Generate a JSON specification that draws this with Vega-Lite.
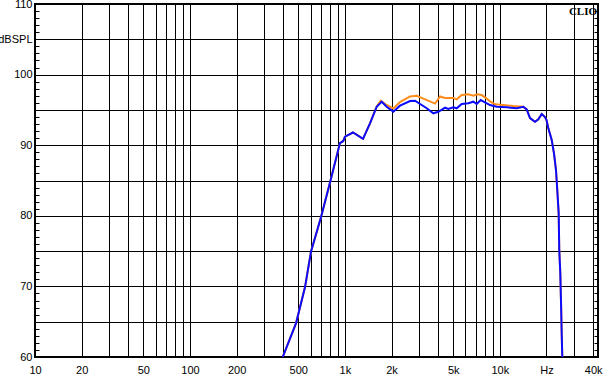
{
  "$schema": "https://vega.github.io/schema/vega-lite/v6.json",
  "width": 563,
  "height": 353,
  "autosize": "none",
  "padding": {"left": 35, "top": 4, "right": 5, "bottom": 19},
  "background": "white",
  "config": {
    "view": {"stroke": "black", "strokeWidth": 2},
    "axis": {
      "labelFont": "Liberation Sans",
      "labelFontSize": 11,
      "labelColor": "black",
      "title": null,
      "domain": false,
      "gridColor": "black",
      "gridWidth": 1,
      "tickColor": "black",
      "labelOverlap": false,
      "labelFlush": false
    }
  },
  "datasets": {
    "orange": [
      {"f": 397, "db": 60.0}, {"f": 484, "db": 64.8}, {"f": 553, "db": 69.9}, {"f": 604, "db": 74.9},
      {"f": 701, "db": 79.8}, {"f": 810, "db": 85.1}, {"f": 929, "db": 90.3},
      {"f": 977, "db": 90.6}, {"f": 1001, "db": 91.2}, {"f": 1128, "db": 91.8}, {"f": 1309, "db": 90.9},
      {"f": 1452, "db": 93.1}, {"f": 1604, "db": 95.5}, {"f": 1703, "db": 96.3}, {"f": 1860, "db": 95.7},
      {"f": 2054, "db": 95.2}, {"f": 2268, "db": 96.1}, {"f": 2632, "db": 96.9}, {"f": 2908, "db": 97.0},
      {"f": 3207, "db": 96.6}, {"f": 3542, "db": 96.2}, {"f": 3815, "db": 95.9}, {"f": 4111, "db": 96.9},
      {"f": 4429, "db": 96.7}, {"f": 5008, "db": 96.7}, {"f": 5267, "db": 96.5}, {"f": 5674, "db": 97.1},
      {"f": 6258, "db": 97.2}, {"f": 6744, "db": 97.0}, {"f": 7152, "db": 97.2}, {"f": 7636, "db": 97.1},
      {"f": 8225, "db": 96.6}, {"f": 8643, "db": 96.2}, {"f": 9306, "db": 95.8}, {"f": 10527, "db": 95.7},
      {"f": 12216, "db": 95.55}, {"f": 14169, "db": 95.45}, {"f": 14902, "db": 95.08}, {"f": 15651, "db": 93.85},
      {"f": 16865, "db": 93.33}, {"f": 17714, "db": 93.67}, {"f": 18631, "db": 94.42}, {"f": 19560, "db": 93.99},
      {"f": 20001, "db": 93.57}, {"f": 20543, "db": 92.44}, {"f": 21613, "db": 90.74}, {"f": 22357, "db": 88.85},
      {"f": 23030, "db": 86.49}, {"f": 23480, "db": 83.65}, {"f": 23972, "db": 80.35}, {"f": 24183, "db": 75.16},
      {"f": 24553, "db": 71.9}, {"f": 24803, "db": 68.07}, {"f": 25067, "db": 63.4}, {"f": 25293, "db": 60.0}
    ],
    "blue": [
      {"f": 397, "db": 60.0}, {"f": 484, "db": 64.8}, {"f": 553, "db": 69.9}, {"f": 604, "db": 74.9},
      {"f": 701, "db": 79.8}, {"f": 810, "db": 85.1}, {"f": 929, "db": 90.3},
      {"f": 977, "db": 90.6}, {"f": 1001, "db": 91.2}, {"f": 1128, "db": 91.8}, {"f": 1309, "db": 90.9},
      {"f": 1452, "db": 93.1}, {"f": 1604, "db": 95.45}, {"f": 1727, "db": 96.16}, {"f": 1860, "db": 95.45},
      {"f": 2054, "db": 94.75}, {"f": 2268, "db": 95.6}, {"f": 2632, "db": 96.26}, {"f": 2835, "db": 96.3},
      {"f": 3131, "db": 95.69}, {"f": 3373, "db": 95.23}, {"f": 3721, "db": 94.52}, {"f": 4008, "db": 94.74},
      {"f": 4429, "db": 95.31}, {"f": 4651, "db": 95.13}, {"f": 5008, "db": 95.37}, {"f": 5267, "db": 95.23},
      {"f": 5674, "db": 95.84}, {"f": 6258, "db": 95.94}, {"f": 6744, "db": 96.16}, {"f": 7090, "db": 95.84},
      {"f": 7523, "db": 96.4}, {"f": 8018, "db": 96.08}, {"f": 8643, "db": 95.69}, {"f": 9544, "db": 95.45},
      {"f": 11074, "db": 95.37}, {"f": 12851, "db": 95.23}, {"f": 14169, "db": 95.45}, {"f": 14902, "db": 95.08},
      {"f": 15651, "db": 93.85}, {"f": 16865, "db": 93.33}, {"f": 17714, "db": 93.67}, {"f": 18631, "db": 94.42},
      {"f": 19560, "db": 93.99}, {"f": 20001, "db": 93.57}, {"f": 20543, "db": 92.44}, {"f": 21613, "db": 90.74},
      {"f": 22357, "db": 88.85}, {"f": 23030, "db": 86.49}, {"f": 23480, "db": 83.65}, {"f": 23972, "db": 80.35},
      {"f": 24183, "db": 75.16}, {"f": 24553, "db": 71.9}, {"f": 24803, "db": 68.07}, {"f": 25067, "db": 63.4},
      {"f": 25293, "db": 60.0}
    ],
    "label": [{"f": 42400, "db": 108.9, "t": "CLIO"}]
  },
  "layer": [
    {
      "data": {"name": "orange"},
      "mark": {"type": "line", "color": "#ff8c1a", "strokeWidth": 2, "clip": true},
      "encoding": {
        "x": {
          "field": "f", "type": "quantitative",
          "scale": {"type": "log", "domain": [10, 43000], "nice": false},
          "axis": {
            "values": [10,20,30,40,50,60,70,80,90,100,200,300,400,500,600,700,800,900,1000,2000,3000,4000,5000,6000,7000,8000,9000,10000,20000,30000,40000],
            "grid": true,
            "ticks": false,
            "labelPadding": 7,
            "labelExpr": "datum.value==10?'10':datum.value==20?'20':datum.value==50?'50':datum.value==100?'100':datum.value==200?'200':datum.value==500?'500':datum.value==1000?'1k':datum.value==2000?'2k':datum.value==5000?'5k':datum.value==10000?'10k':datum.value==20000?'Hz':datum.value==40000?'40k':''"
          }
        },
        "y": {
          "field": "db", "type": "quantitative",
          "scale": {"domain": [60, 110], "nice": false, "zero": false},
          "axis": {
            "orient": "left",
            "values": [60,61,62,63,64,65,66,67,68,69,70,71,72,73,74,75,76,77,78,79,80,81,82,83,84,85,86,87,88,89,90,91,92,93,94,95,96,97,98,99,100,101,102,103,104,105,106,107,108,109,110],
            "grid": true,
            "gridOpacity": {"condition": {"test": "datum.value % 5 === 0", "value": 1}, "value": 0},
            "ticks": true,
            "tickSize": -4,
            "labelPadding": 7,
            "labelExpr": "datum.value % 10 === 0 ? datum.label : (datum.value === 105 ? 'dBSPL' : '')"
          }
        }
      }
    },
    {
      "data": {"name": "blue"},
      "mark": {"type": "line", "color": "#0a0aff", "strokeWidth": 2, "clip": true},
      "encoding": {
        "x": {"field": "f", "type": "quantitative"},
        "y": {
          "field": "db", "type": "quantitative",
          "axis": {
            "orient": "right",
            "values": [60,61,62,63,64,65,66,67,68,69,70,71,72,73,74,75,76,77,78,79,80,81,82,83,84,85,86,87,88,89,90,91,92,93,94,95,96,97,98,99,100,101,102,103,104,105,106,107,108,109,110],
            "grid": false,
            "ticks": true,
            "tickSize": -4,
            "labels": false
          }
        }
      }
    },
    {
      "data": {"name": "label"},
      "mark": {"type": "text", "font": "Liberation Serif", "fontWeight": "bold", "fontSize": 11, "align": "right", "baseline": "middle", "color": "black"},
      "encoding": {
        "x": {"field": "f", "type": "quantitative"},
        "y": {"field": "db", "type": "quantitative", "axis": null},
        "text": {"field": "t"}
      }
    }
  ],
  "resolve": {"axis": {"y": "independent"}}
}
